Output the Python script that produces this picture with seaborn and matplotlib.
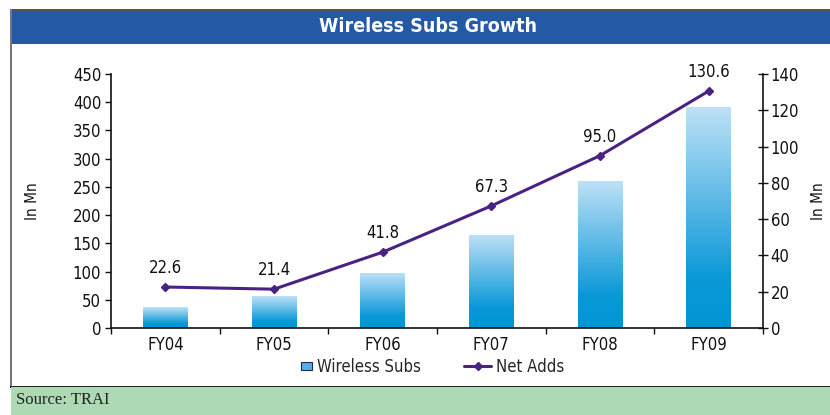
import numpy as np
import pandas as pd
import matplotlib
matplotlib.use('Agg')
import matplotlib.pyplot as plt
import seaborn as sns
from matplotlib.patches import Rectangle, Patch
from matplotlib.lines import Line2D
from matplotlib.legend_handler import HandlerPatch
from matplotlib.colors import LinearSegmentedColormap

years = ['FY04', 'FY05', 'FY06', 'FY07', 'FY08', 'FY09']
wireless_subs = [37, 56, 98, 165, 261, 392]
net_adds = [22.6, 21.4, 41.8, 67.3, 95.0, 130.6]

sns.set_theme(style='white')
plt.rcParams['font.family'] = ['DejaVu Sans']
plt.rcParams['font.stretch'] = 'condensed'

df = pd.DataFrame({'year': years, 'subs': wireless_subs, 'adds': net_adds})

fig = plt.figure(figsize=(8.3, 4.15), dpi=100)

# page frame: title bar, grey border, source strip
W, H = 830, 415
def fr(x, y, w, h, **kw):
    fig.add_artist(Rectangle((x / W, 1 - (y + h) / H), w / W, h / H,
                             transform=fig.transFigure, **kw))

fr(10, 9, 820, 2, color='#555555', lw=0)
fr(11, 11, 819, 33, color='#2459A5', lw=0)
fr(10, 9, 1.5, 378, color='#777777', lw=0)
fr(10, 386, 820, 1.5, color='#222222', lw=0)
fr(11, 387.5, 819, 28, color='#ADD9B4', lw=0)

fig.text(428 / W, 1 - 27 / H, 'Wireless Subs Growth', color='white',
         fontsize=14, fontweight='bold', ha='center', va='center',
         fontstretch='condensed')
fig.text(16 / W, 1 - 400 / H, 'Source: TRAI', fontsize=12, ha='left',
         va='center', family=['Liberation Serif', 'DejaVu Serif'],
         fontstretch='normal', color='#222222')

ax = fig.add_axes([111 / W, 1 - 328 / H, 652 / W, 254 / H])
sns.barplot(data=df, x='year', y='subs', ax=ax, width=0.41, color='#0096D6')

ax.set_xlim(-0.5, 5.5)
ax.set_ylim(0, 450)
ax.set_yticks(np.arange(0, 451, 50))

# gradient fill for each bar
grad = LinearSegmentedColormap.from_list('g', [(0, '#0096D6'), (0.22, '#0A98D8'),
                                              (1, '#BFE1F7')])
img = np.linspace(0, 1, 256).reshape(-1, 1)
for p in ax.patches:
    x0, y0 = p.get_x(), p.get_y()
    w, h = p.get_width(), p.get_height()
    im = ax.imshow(img, cmap=grad, origin='lower', aspect='auto',
                   extent=[x0, x0 + w, y0, y0 + h], zorder=2)
    im.set_clip_path(p)
    p.set_facecolor('none')
    p.set_edgecolor('none')
ax.set_xlim(-0.5, 5.5)
ax.set_ylim(0, 450)

ax2 = ax.twinx()
ax2.plot(range(len(years)), net_adds, color='#4A2284', lw=2.2, marker='D',
         markersize=4.5, zorder=5)
ax2.set_ylim(0, 140)
ax2.set_yticks(np.arange(0, 141, 20))
for i, v in enumerate(net_adds):
    ax2.annotate(f'{v:.1f}', (i, v), xytext=(0, 7), textcoords='offset points',
                 ha='center', va='bottom', fontsize=12, color='#111111')

for a in (ax, ax2):
    a.spines['top'].set_visible(False)
    for s in a.spines.values():
        s.set_color('#111111')
        s.set_linewidth(1.2)
ax.spines['right'].set_visible(False)
ax2.spines['left'].set_visible(False)
ax2.spines['bottom'].set_visible(False)

ax.tick_params(axis='y', direction='out', length=4, width=1, color='#111111',
               labelsize=12, labelcolor='#111111', pad=3, left=True)
ax.tick_params(axis='x', length=0, labelsize=12, labelcolor='#111111', pad=6)
ax.set_xticks(np.arange(-0.5, 5.6, 1), minor=True)
ax.tick_params(axis='x', which='minor', direction='out', length=4, width=1,
               color='#111111', bottom=True)
ax2.tick_params(axis='y', direction='inout', length=7, width=1, color='#111111',
                labelsize=12, labelcolor='#111111', pad=2, right=True)

ax.set_xlabel('')
ax.set_ylabel('In Mn', fontsize=11, color='#111111')
ax2.set_ylabel('In Mn', fontsize=11, color='#111111', rotation=90)
ax.yaxis.set_label_coords(-71 / 652, 0.5)
ax2.yaxis.set_label_coords(1 + 48 / 652, 0.5)
ax.grid(False)
ax2.grid(False)


def small_box(legend, orig_handle, xdescent, ydescent, width, height, fontsize):
    return Rectangle((-xdescent + width - 8, -ydescent + height / 2 - 3), 8, 6)


handles = [Patch(facecolor='#4FB1E6', edgecolor='#1A2A5A', lw=0.8),
           Line2D([0], [0], color='#4A2284', lw=2.2, marker='D', markersize=4)]
fig.legend(handles, ['Wireless Subs', 'Net Adds'], loc='center',
           bbox_to_anchor=(425 / W, 1 - 367 / H), ncol=2, frameon=False,
           fontsize=12, handlelength=1.6, columnspacing=2.6,
           handletextpad=0.3,
           handler_map={Patch: HandlerPatch(patch_func=small_box)})

fig.savefig('out.png', dpi=100, facecolor='white')
